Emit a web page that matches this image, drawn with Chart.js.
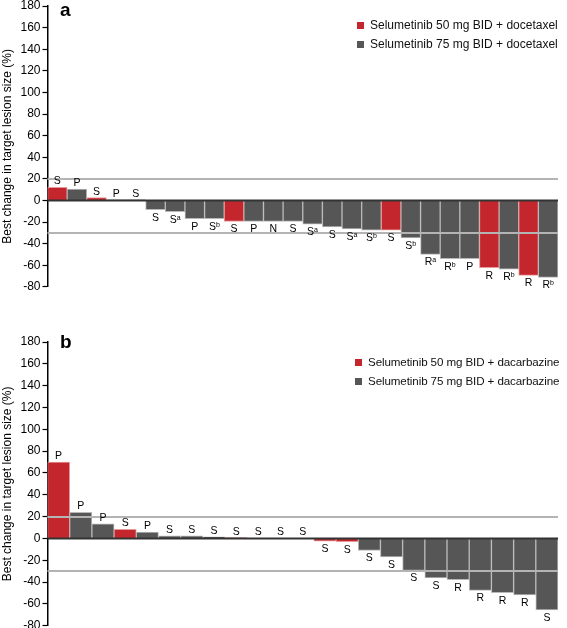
<!DOCTYPE html>
<html>
<head>
<meta charset="utf-8">
<script src="https://cdn.jsdelivr.net/npm/chart.js@4"></script>
<style>
  html,body{margin:0;padding:0;background:#fff;overflow:hidden;}
  body{width:567px;height:628px;position:relative;font-family:"Liberation Sans",Arial,sans-serif;}
  .panel{position:absolute;left:0;}
  .letter{position:absolute;font-weight:bold;font-size:19px;color:#000;}
  .lg{position:absolute;font-size:12px;color:#111;line-height:19px;}
  .lg div{white-space:nowrap;}
  .lg span{display:inline-block;width:7px;height:7px;margin-right:6px;vertical-align:0px;}
</style>
</head>
<body>
<canvas id="chartA" class="panel" width="567" height="305" style="top:-9px"></canvas>
<canvas id="chartB" class="panel" width="567" height="308" style="top:327px"></canvas>

<div class="letter" style="left:60px;top:-1px">a</div>
<div class="letter" style="left:60px;top:331px">b</div>

<div class="lg" style="left:357px;top:16px">
  <div><span style="background:#c3262c"></span>Selumetinib 50 mg BID + docetaxel</div>
  <div><span style="background:#565656"></span>Selumetinib 75 mg BID + docetaxel</div>
</div>
<div class="lg" style="left:355px;top:352px;font-size:11.6px;letter-spacing:-0.1px">
  <div><span style="background:#c3262c"></span>Selumetinib 50 mg BID + dacarbazine</div>
  <div><span style="background:#565656"></span>Selumetinib 75 mg BID + dacarbazine</div>
</div>

<script>
// panel a: docetaxel
const armA   = [50,75,50,75,75,75,75,75,75,50,75,75,75,75,75,75,75,50,75,75,75,75,50,75,50,75];
const valuesA = [12,10.5,2.5,0.5,0.5,-8.6,-10.4,-16.9,-16.9,-19.5,-19.5,-19.5,-19.5,-22,-24.6,-26.4,-27.6,-27.6,-34.7,-50,-54,-54,-62.4,-63.6,-69.4,-71.3];
const respA  = ['S','P','S','P','S','S','S','P','S','S','P','N','S','S','S','S','S','S','S','R','R','P','R','R','R','R'];
const supA   = ['','','','','','','a','','b','','','','','a','','a','b','','b','a','b','','','b','','b'];

// panel b: dacarbazine
const armB    = [50,75,75,50,75,75,75,75,50,75,75,75,50,50,75,75,75,75,75,75,75,75,75];
const valuesB = [70,24,13.5,8.3,5.9,2.5,2.5,1.5,0.5,0.3,0.3,0.3,-2.4,-3,-11,-16.9,-29.2,-36.2,-37.7,-47.6,-49.7,-51.6,-65.4];
const respB   = ['P','P','P','S','P','S','S','S','S','S','S','S','S','S','S','S','S','S','R','R','R','R','S'];
const supB    = respB.map(()=> '');

const refLines = [20, -30];
const yTicks = {min:-80, max:180, step:20};

const RED = '#c3262c', GREY = '#565656';

const overlay = {
  id:'overlay',
  afterDatasetsDraw(chart, args, opts){
    const {ctx, chartArea:ca, scales:{y}} = chart;
    ctx.save();
    // reference lines
    ctx.strokeStyle = '#b4b4b4'; ctx.lineWidth = 2;
    refLines.forEach(v=>{
      const py = Math.round(y.getPixelForValue(v));
      ctx.beginPath(); ctx.moveTo(ca.left, py); ctx.lineTo(ca.right, py); ctx.stroke();
    });
    // zero line
    const p0 = y.getPixelForValue(0);
    ctx.strokeStyle = '#333'; ctx.lineWidth = 2;
    ctx.beginPath(); ctx.moveTo(ca.left, p0); ctx.lineTo(ca.right, p0); ctx.stroke();
    // response labels
    const meta = chart.getDatasetMeta(0);
    const vals = chart.data.datasets[0].data;
    ctx.fillStyle = '#000';
    meta.data.forEach((bar,i)=>{
      const v = vals[i];
      const main = opts.resp[i], sup = opts.sup[i];
      ctx.font = '10.5px "Liberation Sans", Arial, sans-serif';
      const w1 = ctx.measureText(main).width;
      ctx.font = '7px "Liberation Sans", Arial, sans-serif';
      const w2 = sup ? ctx.measureText(sup).width : 0;
      const x0 = bar.x - (w1+w2)/2;
      const base = v >= 0 ? bar.y - 3 : bar.y + 11;
      ctx.textAlign = 'left'; ctx.textBaseline = 'alphabetic';
      ctx.font = '10.5px "Liberation Sans", Arial, sans-serif';
      ctx.fillText(main, x0, base);
      if (sup){
        ctx.font = '7px "Liberation Sans", Arial, sans-serif';
        ctx.fillText(sup, x0 + w1, base - 3);
      }
    });
    ctx.restore();
  }
};

function makeChart(id, arm, values, resp, sup){
  return new Chart(byId(id), {
    type:'bar',
    data:{
      labels: values.map((_,i)=> String(i+1)),
      datasets:[{
        data: values,
        backgroundColor: arm.map(a=> a===50 ? RED : GREY),
        borderColor: arm.map(a=> a===50 ? '#e59a9a' : '#b8b8b8'),
        borderWidth: 1,
        categoryPercentage: 1,
        barPercentage: 1
      }]
    },
    options:{
      responsive:false,
      devicePixelRatio:1,
      animation:false,
      layout:{ padding:{ top:15, bottom:8, left:0, right:9 } },
      plugins:{ legend:{display:false}, tooltip:{enabled:false}, overlay:{ resp, sup } },
      scales:{
        x:{ display:false },
        y:{
          min: yTicks.min, max: yTicks.max,
          ticks:{ stepSize: yTicks.step, color:'#000', padding:2,
                  font:{ family:'"Liberation Sans", Arial, sans-serif', size:12 } },
          grid:{ drawOnChartArea:false, drawTicks:true, tickLength:5, tickColor:'#000', tickWidth:1.2 },
          border:{ display:true, color:'#000', width:1.5 },
          title:{ display:true, text:'Best change in target lesion size (%)', color:'#000', padding:0,
                  font:{ family:'"Liberation Sans", Arial, sans-serif', size:12 } },
          afterFit(scale){ scale.width = 47.5; }
        }
      }
    },
    plugins:[overlay]
  });
}

function byId(id){ return document.getElementById(id); }

makeChart('chartA', armA, valuesA, respA, supA);
makeChart('chartB', armB, valuesB, respB, supB);
</script>
</body>
</html>
